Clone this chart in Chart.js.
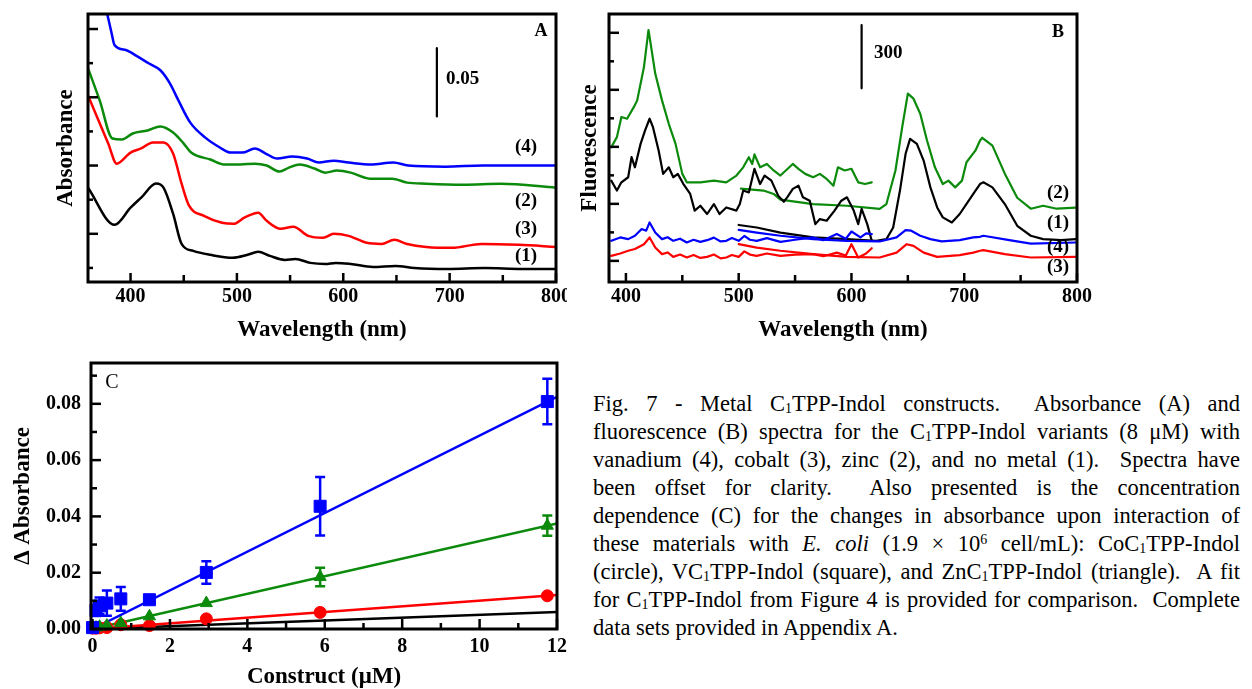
<!DOCTYPE html>
<html>
<head>
<meta charset="utf-8">
<script src="https://cdn.jsdelivr.net/npm/chart.js@4.4.1/dist/chart.umd.min.js"></script>
<style>
  body { margin: 0; background: #fff; }
  #wrap { position: relative; width: 1252px; height: 689px; overflow: hidden; }
  #clipA { position: absolute; left: 0; top: 0; width: 567px; height: 341px; overflow: hidden; }
  #cb { position: absolute; left: 570px; top: 0; }
  #cc { position: absolute; left: 0; top: 341px; }
  #cap { position: absolute; left: 593px; top: 390px; width: 647px; font-family: 'Liberation Serif', serif; font-size: 22.5px; line-height: 28px; color: #000; }
  #cap .ln { text-align: justify; text-align-last: justify; }
  #cap .last { text-align-last: left; }
  #cap sub { font-size: 0.62em; vertical-align: -0.12em; line-height: 0; }
  #cap sup { font-size: 0.62em; vertical-align: 0.5em; line-height: 0; }
</style>
</head>
<body>
<div id="wrap">
  <div id="clipA"><canvas id="ca" width="580" height="345"></canvas></div>
  <canvas id="cb" width="682" height="345"></canvas>
  <canvas id="cc" width="580" height="348"></canvas>
  <div id="cap">
    <div class="ln">Fig. 7 - Metal C<sub>1</sub>TPP-Indol constructs.&nbsp; Absorbance (A) and</div>
    <div class="ln">fluorescence (B) spectra for the C<sub>1</sub>TPP-Indol variants (8 μM) with</div>
    <div class="ln">vanadium (4), cobalt (3), zinc (2), and no metal (1).&nbsp; Spectra have</div>
    <div class="ln">been offset for clarity.&nbsp; Also presented is the concentration</div>
    <div class="ln">dependence (C) for the changes in absorbance upon interaction of</div>
    <div class="ln">these materials with <i>E. coli</i> (1.9 × 10<sup>6</sup> cell/mL): CoC<sub>1</sub>TPP-Indol</div>
    <div class="ln">(circle), VC<sub>1</sub>TPP-Indol (square), and ZnC<sub>1</sub>TPP-Indol (triangle).&nbsp; A fit</div>
    <div class="ln">for C<sub>1</sub>TPP-Indol from Figure 4 is provided for comparison.&nbsp; Complete</div>
    <div class="ln last">data sets provided in Appendix A.</div>
  </div>
</div>
<script>
// ---- panel A : absorbance spectra (offset) ----
const wlA1 = [360,385,400,410,424,431,440,448,459,475,496,510,520,531,545,555,569,583,593,607,628,649,667,698,733,768,800];
const absA1 = [0.0588,0.0316,0.0441,0.0515,0.0618,0.0588,0.0397,0.0176,0.0125,0.0096,0.0074,0.0096,0.0118,0.0088,0.0059,0.0066,0.0037,0.0029,0.0037,0.0029,0.0007,0.0015,0,-0.0007,0,-0.0007,-0.0007];
const wlA3 = [360,379,387,400,410,421,431,440,448,455,469,486,497,507,520,528,541,553,567,581,591,605,622,636,648,660,678,702,730,765,800];
const absA3 = [0.1264,0.0911,0.0764,0.0845,0.0875,0.0919,0.0919,0.0838,0.0617,0.0456,0.0382,0.0331,0.0323,0.0368,0.0404,0.0345,0.0287,0.0301,0.0235,0.0221,0.0250,0.0235,0.0184,0.0176,0.0206,0.0176,0.0154,0.0147,0.0176,0.0169,0.0154];
const wlA2 = [360,371,383,392,402,416,428,440,450,457,475,489,503,517,528,540,549,559,573,583,594,607,625,646,660,678,713,748,800];
const absA2 = [0.1463,0.1227,0.0948,0.0941,0.0985,0.1007,0.1036,0.0992,0.0911,0.0845,0.0794,0.0757,0.0757,0.0764,0.0750,0.0706,0.0735,0.0757,0.0728,0.0698,0.0713,0.0698,0.0654,0.0654,0.0625,0.0617,0.0610,0.0617,0.0588];
const wlA4 = [374,382,385,396,406,417,428,437,445,456,470,484,494,505,517,527,538,552,566,577,591,605,626,647,661,696,731,800];
const absA4 = [0.200,0.1727,0.1632,0.1595,0.1551,0.1499,0.1448,0.1352,0.1227,0.1066,0.0956,0.0882,0.0845,0.0845,0.0875,0.0838,0.0801,0.0816,0.0801,0.0772,0.0786,0.0772,0.0757,0.0772,0.0750,0.0742,0.0750,0.0750];
const aXLabels = [400,500,600,700,800];
const aXMinor = [450,550,650,750];
const aYTicks = [0,0.025,0.05,0.075,0.1,0.125,0.15,0.175];
const aBarWl = 688, aBar = [0.111, 0.161];

// ---- panel B : fluorescence spectra, two scans per sample ----
const wlB2a = [387,392,396,401,407,410,416,420,421,426,432,438,444,450,454,466,478,489,498,504,509,512,514,519,525,531,537,548,553,559,566,572,578,584,588,594,600,606,612,618];
const fluB2a = [538,586,681,673,728,760,918,1093,1061,887,760,649,554,412,372,372,380,372,404,443,491,459,504,443,459,428,404,459,436,412,396,412,388,356,443,428,436,372,364,372];
const wlB2b = [502,522,531,537,566,596,625,631,639,645,650,655,661,667,674,681,686,692,698,702,710,714,716,725,736,747,759,770,782,799];
const fluB2b = [342,333,317,290,269,261,246,269,428,633,792,768,697,570,443,364,380,348,380,467,523,570,583,546,413,299,247,261,247,252];
const wlB1a = [387,392,396,402,405,408,413,417,421,424,429,433,438,442,446,451,457,461,466,472,478,483,489,498,501,504,509,514,519,523,529,535,540,543,548,553,557,563,568,572,578,585,591,596,602,606,609,614,618];
const fluB1a = [380,333,372,396,491,443,554,618,673,633,523,412,443,396,412,364,317,238,261,222,269,222,253,238,269,333,324,436,364,404,380,309,280,301,341,356,301,285,174,198,190,238,285,301,238,174,246,174,95];
const wlB1b = [500,516,537,566,596,622,631,637,643,648,652,658,664,670,676,681,689,696,704,710,714,717,725,736,747,759,770,786,799];
const fluB1b = [170,158,134,111,103,95,103,158,333,507,578,554,475,348,253,206,182,222,285,333,364,372,348,269,166,119,103,98,103];
const wlB4a = [387,395,402,408,414,418,421,426,432,437,442,448,454,460,466,472,478,484,489,494,500,505,510,516,525,537,550,566,575,587,595,600,608,613,618];
const fluB4a = [95,111,103,119,151,143,182,134,103,112,95,105,87,100,90,98,110,92,95,108,95,118,100,95,108,90,100,111,98,127,105,139,111,130,127];
const wlB4b = [500,516,537,566,596,625,640,648,653,661,670,680,696,708,714,717,740,759,799];
const fluB4b = [147,134,119,103,95,92,111,146,143,119,103,92,98,111,114,119,98,82,87];
const wlB3a = [387,395,402,408,416,421,426,432,437,442,448,454,460,466,472,478,484,489,494,500,505,510,516,525,537,550,566,575,587,595,600,606,613,618];
const fluB3a = [24,35,48,56,79,111,63,32,40,19,30,16,28,14,19,30,12,16,28,19,45,30,24,35,24,30,32,22,39,25,79,16,35,60];
const wlB3b = [500,516,537,566,596,625,640,649,655,664,676,696,708,714,717,736,759,799];
const fluB3b = [79,63,48,32,19,16,39,79,71,39,19,27,39,48,51,32,16,19];
const bXLabels = [400,500,600,700,800];
const bXMinor = [450,550,650,750];
const bYTicks = [0,135,270,405,540,675,810,945,1080];
const bBarWl = 609, bBar = [817, 1117];

// ---- panel C : delta absorbance vs construct concentration ----
const conc = [0, 0.09, 0.18, 0.37, 0.73, 1.47, 2.94, 5.88, 11.75];
const vAbs = [0.0005, 0.0066, 0.0082, 0.0092, 0.0107, 0.0104, 0.0201, 0.0436, 0.0808];
const vErr = [0.0005, 0.002, 0.003, 0.0045, 0.0042, 0.0012, 0.004, 0.0104, 0.0081];
const znAbs = [0, 0.0005, 0.0008, 0.0012, 0.0021, 0.0045, 0.0092, 0.0185, 0.0367];
const znErr = [0, 0.0003, 0.0004, 0.0005, 0.0006, 0.001, 0.0012, 0.0033, 0.0036];
const coAbs = [0.0003, 0.0003, 0.0004, 0.0005, 0.0015, 0.0012, 0.0036, 0.0059, 0.0118];
const coErr = [0.0002, 0.0002, 0.0002, 0.0003, 0.0003, 0.0003, 0.0004, 0.0005, 0.0006];
const fitX = [0, 12];
const fitV = [0, 0.0825];
const fitZn = [0, 0.0375];
const fitCo = [0, 0.0121];
const fitFree = [0, 0.006];
const cXLabels = [0,2,4,6,8,10,12];
const cXMinor = [1,3,5,7,9,11];
const cYLabels = [0,0.02,0.04,0.06,0.08];
const cYMinor = [0.01,0.03,0.05,0.07,0.09];

const SERIF = "'Liberation Serif', 'Times New Roman', serif";
const GREEN = '#0b8a0b';
const BLUE = '#0000ff';
const RED = '#ff0000';

function pts(xs, ys) { return xs.map((x, i) => ({x: x, y: ys[i]})); }

function curve(xs, ys, color, w, smooth) {
  return {
    data: pts(xs, ys), borderColor: color, borderWidth: w, pointRadius: 0,
    fill: false, tension: smooth ? 0.35 : 0, cubicInterpolationMode: smooth ? 'monotone' : 'default',
    borderJoinStyle: 'round', borderCapStyle: 'round'
  };
}

// frame, inner ticks, error bars and text labels
const decor = {
  id: 'decor',
  afterDatasetsDraw(chart, args, o) {
    const ctx = chart.ctx, a = chart.chartArea;
    const sx = chart.scales.x, sy = chart.scales.y;
    ctx.save();
    chart.data.datasets.forEach((ds, di) => {
      if (!ds.err) return;
      const meta = chart.getDatasetMeta(di);
      ctx.strokeStyle = ds.borderColor;
      ctx.lineWidth = 2.5;
      meta.data.forEach((p, i) => {
        const v = ds.data[i].y, e = ds.err[i];
        const top = sy.getPixelForValue(v + e), bot = sy.getPixelForValue(v - e);
        if (bot - top < 8) return;
        ctx.beginPath();
        ctx.moveTo(p.x, top); ctx.lineTo(p.x, bot);
        ctx.moveTo(p.x - 5, top); ctx.lineTo(p.x + 5, top);
        ctx.moveTo(p.x - 5, bot); ctx.lineTo(p.x + 5, bot);
        ctx.stroke();
      });
    });
    ctx.strokeStyle = '#000';
    ctx.lineWidth = 2.5;
    (o.xTicks || []).forEach(t => {
      const px = sx.getPixelForValue(t[0]);
      ctx.beginPath(); ctx.moveTo(px, a.bottom); ctx.lineTo(px, a.bottom - t[1]); ctx.stroke();
    });
    (o.yTicks || []).forEach(t => {
      const py = sy.getPixelForValue(t[0]);
      ctx.beginPath(); ctx.moveTo(a.left, py); ctx.lineTo(a.left + t[1], py); ctx.stroke();
    });
    ctx.lineWidth = 3;
    ctx.strokeRect(a.left, a.top, a.right - a.left, a.bottom - a.top);
    ctx.fillStyle = '#000';
    ctx.textBaseline = 'middle';
    (o.texts || []).forEach(t => {
      ctx.font = t[3];
      ctx.textAlign = t[4] || 'center';
      ctx.fillText(t[0], t[1], t[2]);
    });
    ctx.restore();
  }
};

function axisX(min, max, labels, height, pad) {
  return {
    type: 'linear', min: min, max: max,
    afterBuildTicks: s => { s.ticks = labels.map(v => ({value: v})); },
    afterFit: s => { s.height = height; },
    grid: {display: false, drawTicks: false}, border: {display: false},
    ticks: {padding: pad, color: '#000', autoSkip: false, maxRotation: 0,
            font: {family: SERIF, size: 20, weight: 'bold'}},
    title: {display: true, color: '#000', font: {family: SERIF, size: 23, weight: 'bold', lineHeight: 1}}
  };
}

function axisY(min, max, width, text, titlePad) {
  return {
    min: min, max: max,
    afterFit: s => { s.width = width; },
    grid: {display: false, drawTicks: false}, border: {display: false},
    ticks: {display: false},
    title: {display: true, text: text, color: '#000', padding: {top: titlePad, bottom: 0},
            font: {family: SERIF, size: 23, weight: 'bold', lineHeight: 1}}
  };
}

const base = {
  responsive: false, animation: false,
  plugins: {legend: {display: false}, tooltip: {enabled: false}},
};

// panel A
const axA = axisX(360, 800, aXLabels, 63, 3);
axA.title.text = 'Wavelength (nm)';
axA.title.padding = {top: 0, bottom: 3.5};
new Chart(document.getElementById('ca'), {
  type: 'line',
  data: {datasets: [
    curve(wlA4, absA4, BLUE, 2.5, true),
    curve(wlA2, absA2, GREEN, 2.5, true),
    curve(wlA3, absA3, RED, 2.5, true),
    curve(wlA1, absA1, '#000', 2.5, true),
    curve([aBarWl, aBarWl], aBar, '#000', 2.2, false)
  ]},
  options: Object.assign({}, base, {
    layout: {padding: {left: 0, top: 14, right: 24, bottom: 0}},
    scales: {x: axA, y: axisY(-0.0103, 0.186, 88, 'Absorbance', 54.5)},
    plugins: Object.assign({}, base.plugins, {decor: {
      xTicks: aXLabels.map(v => [v, 9]).concat(aXMinor.map(v => [v, 7])),
      yTicks: aYTicks.map((v, i) => [v, i % 2 ? 10 : 5]),
      texts: [
        ['A', 541, 31, 'bold 18px ' + SERIF],
        ['0.05', 446, 79, 'bold 19px ' + SERIF, 'left'],
        ['(4)', 526, 147, 'bold 19px ' + SERIF],
        ['(2)', 526, 201, 'bold 19px ' + SERIF],
        ['(3)', 526, 229, 'bold 19px ' + SERIF],
        ['(1)', 526, 256, 'bold 19px ' + SERIF]
      ]
    }})
  }),
  plugins: [decor]
});

// panel B
const axB = axisX(385, 800, bXLabels, 63, 3);
axB.title.text = 'Wavelength (nm)';
axB.title.padding = {top: 0, bottom: 3.5};
new Chart(document.getElementById('cb'), {
  type: 'line',
  data: {datasets: [
    curve(wlB4a, fluB4a, BLUE, 2.2, false),
    curve(wlB4b, fluB4b, BLUE, 2.2, false),
    curve(wlB3a, fluB3a, RED, 2.2, false),
    curve(wlB3b, fluB3b, RED, 2.2, false),
    curve(wlB1a, fluB1a, '#000', 2.2, false),
    curve(wlB1b, fluB1b, '#000', 2.2, false),
    curve(wlB2a, fluB2a, GREEN, 2.2, false),
    curve(wlB2b, fluB2b, GREEN, 2.2, false),
    curve([bBarWl, bBarWl], bBar, '#000', 2.2, false)
  ]},
  options: Object.assign({}, base, {
    layout: {padding: {left: 0, top: 14, right: 175, bottom: 0}},
    scales: {x: axB, y: axisY(-100, 1169, 39, 'Fluorescence', 8.5)},
    plugins: Object.assign({}, base.plugins, {decor: {
      xTicks: bXLabels.map(v => [v, 9]).concat(bXMinor.map(v => [v, 7])),
      yTicks: bYTicks.map((v, i) => [v, i % 2 ? 5 : 10]),
      texts: [
        ['B', 488, 32, 'bold 18px ' + SERIF],
        ['300', 304, 53, 'bold 19px ' + SERIF, 'left'],
        ['(2)', 488, 193, 'bold 19px ' + SERIF],
        ['(1)', 488, 223, 'bold 19px ' + SERIF],
        ['(4)', 488, 247, 'bold 19px ' + SERIF],
        ['(3)', 488, 267, 'bold 19px ' + SERIF]
      ]
    }})
  }),
  plugins: [decor]
});

// panel C
function markers(xs, ys, err, color, style, r) {
  return {
    data: pts(xs, ys), err: err, showLine: false, clip: false,
    borderColor: color, backgroundColor: color, pointStyle: style,
    pointRadius: r, pointBorderWidth: 1
  };
}
const axC = axisX(-0.04, 12, cXLabels, 60, 6);
axC.title.text = 'Construct (μM)';
axC.title.padding = {top: 0, bottom: 0.5};
const ayC = axisY(0, 0.0945, 91, 'Δ Absorbance', 11.5);
ayC.afterBuildTicks = s => { s.ticks = cYLabels.map(v => ({value: v})); };
ayC.ticks = {display: true, padding: 10, color: '#000', callback: v => v.toFixed(2),
             font: {family: SERIF, size: 20, weight: 'bold'}};
new Chart(document.getElementById('cc'), {
  type: 'line',
  data: {datasets: [
    markers(conc, vAbs, vErr, BLUE, 'rect', 8.5),
    markers(conc, znAbs, znErr, GREEN, 'triangle', 7),
    markers(conc, coAbs, coErr, RED, 'circle', 6),
    curve(fitX, fitV, BLUE, 2.5, false),
    curve(fitX, fitZn, GREEN, 2.5, false),
    curve(fitX, fitCo, RED, 2.5, false),
    curve(fitX, fitFree, '#000', 2.5, false)
  ]},
  options: Object.assign({}, base, {
    layout: {padding: {left: 0, top: 22, right: 23, bottom: 0}},
    scales: {x: axC, y: ayC},
    plugins: Object.assign({}, base.plugins, {decor: {
      xTicks: cXLabels.map(v => [v, 10]).concat(cXMinor.map(v => [v, 6])),
      yTicks: cYLabels.map(v => [v, 10]).concat(cYMinor.map(v => [v, 6])),
      texts: [
        ['C', 112, 42, '20px ' + SERIF]
      ]
    }})
  }),
  plugins: [decor]
});
</script>
</body>
</html>
